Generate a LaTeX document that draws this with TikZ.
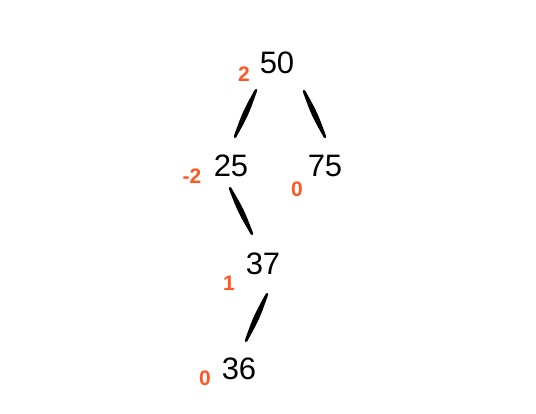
\documentclass[tikz,border=0pt]{standalone}
\usepackage{fontspec}
\setmainfont{Liberation Sans}
\usetikzlibrary{calc}
\definecolor{balorange}{RGB}{255,87,34}

\begin{document}
\begin{tikzpicture}[x=1pt,y=-1pt,key/.style={inner sep=0pt,font=\fontsize{31}{36}\selectfont},bal/.style={inner sep=0pt,text=balorange,font=\fontsize{21}{25}\selectfont\bfseries},branch/.style={fill=black,draw=black,line width=2.6pt,line cap=round,line join=round,to path={.. controls ($(\tikztostart)!0.5!(\tikztotarget)!2pt!90:(\tikztotarget)$) .. (\tikztotarget) .. controls ($(\tikztostart)!0.5!(\tikztotarget)!2pt!-90:(\tikztotarget)$) .. (\tikztostart)}}]
\useasboundingbox (0,0) rectangle (536,414);

\node[key] (K50) at (277,63) {50};
\node[key] (K25) at (231,166) {25};
\node[key] (K75) at (325,166) {75};
\node[key] (K37) at (263,264) {37};
\node[key] (K36) at (239,369) {36};

\node[bal] (B50) at (244,74) {2};
\node[bal] (B25) at (192,176) {-2};
\node[bal] (B75) at (297,189) {0};
\node[bal] (B37) at (229,283) {1};
\node[bal] (B36) at (205,378) {0};

\draw[branch] ([xshift=-21pt,yshift=-16pt]K50.south) to ([xshift=4pt,yshift=18pt]K25.north);
\draw[branch] ([xshift=27pt,yshift=-17pt]K50.south) to ([yshift=18pt]K75.north);
\draw[branch] ([xshift=-1pt,yshift=-11pt]K25.south) to ([xshift=-11pt,yshift=19pt]K37.north);
\draw[branch] ([xshift=4pt,yshift=-19pt]K37.south) to ([xshift=7pt,yshift=17pt]K36.north);
\end{tikzpicture}
\end{document}
